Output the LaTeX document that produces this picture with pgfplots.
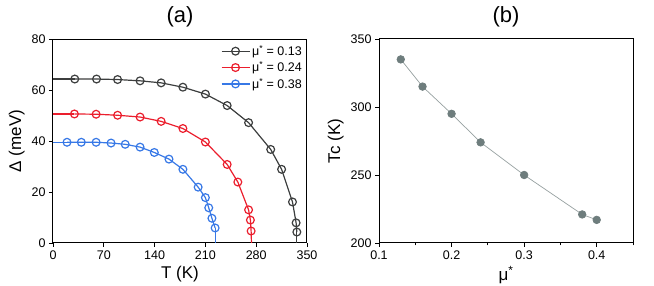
\documentclass[border=0pt]{standalone}
\usepackage{pgfplots}
\pgfplotsset{compat=1.18}
\usepackage{fontspec}
\setmainfont{Liberation Sans}
\definecolor{blk}{RGB}{60,62,62}
\definecolor{rd}{RGB}{235,30,45}
\definecolor{bl}{RGB}{55,120,230}
\definecolor{gm}{RGB}{110,125,125}
\definecolor{gl}{RGB}{150,160,160}
\begin{document}
\begin{tikzpicture}
\path[use as bounding box] (0pt,0pt) rectangle (654pt,286pt);
\pgfplotsset{
  common/.style={
    scale only axis, width=254pt, height=204pt,
    axis line style={line width=1pt, black},
    tick style={black, line width=0.8pt},
    tick align=outside, major tick length=4pt, minor tick length=2.5pt,
    xtick pos=bottom, ytick pos=left,
    tick label style={font=\fontsize{12.5}{14}\selectfont},
    label style={font=\fontsize{17}{20}\selectfont},
    title style={font=\fontsize{22}{26}\selectfont, yshift=2pt},
    /pgf/number format/assume math mode=true,
  },
  ser/.style={#1, line width=1.2pt, mark=o, mark size=3.9pt, mark options={fill=white, line width=1.2pt}},
  lin/.style={#1, line width=1.2pt, forget plot},
}
\begin{axis}[common, at={(53pt,43pt)}, anchor=south west,
  title={(a)},
  xmin=0, xmax=350, ymin=0, ymax=80,
  xtick={0,70,...,350}, ytick={0,20,...,80},
  xlabel={T (K)}, ylabel={Δ (meV)},
  legend style={at={(1.0,0.99)}, anchor=north east, draw=none, fill=none,
    font=\fontsize{12.5}{15}\selectfont, row sep=0.5pt},
  legend cell align=left,
  legend image code/.code={\draw[#1] (0pt,0pt) -- (28pt,0pt); \draw[#1, mark repeat=1] plot coordinates {(14pt,0pt)};},
]
\addplot[lin=blk] coordinates {(0,64.3) (30,64.3)};
\addplot[lin=blk] coordinates {(336,4.3) (336,0)};
\addplot[ser=blk] coordinates {
(30,64.3) (60,64.3) (89,64.1) (120,63.6) (149,62.8) (179,61.1) (210,58.4) (240,53.9) (269.5,47.2) (300,36.7) (315,28.9) (330,16.1) (335,7.9) (336,4.3)};
\addlegendentry{μ\textsuperscript{*} = 0.13}
\addplot[lin=rd] coordinates {(0,50.6) (29.5,50.6)};
\addplot[lin=rd] coordinates {(273,4.7) (273.5,0)};
\addplot[ser=rd] coordinates {
(29.5,50.6) (59.4,50.5) (89,50.1) (120,49.4) (149,47.7) (179,44.9) (210,39.6) (240,30.8) (254.7,23.9) (269.5,13.0) (272,9.0) (273,4.7)};
\addlegendentry{μ\textsuperscript{*} = 0.24}
\addplot[lin=bl] coordinates {(0,39.5) (19.3,39.5)};
\addplot[lin=bl] coordinates {(223.4,5.9) (223.4,0)};
\addplot[ser=bl] coordinates {
(19.3,39.5) (39,39.5) (59.4,39.5) (80,39.2) (99.5,38.7) (120,37.6) (139.6,35.5) (159.8,32.9) (179,28.9) (200,21.9) (210,17.8) (214.6,13.8) (219,9.7) (223.4,5.9)};
\addlegendentry{μ\textsuperscript{*} = 0.38}
\end{axis}
\begin{axis}[common, at={(379pt,43pt)}, anchor=south west,
  title={(b)},
  xmin=0.1, xmax=0.45, ymin=200, ymax=350,
  xtick={0.1,0.2,0.3,0.4}, minor xtick={0.15,0.25,0.35,0.45},
  ytick={200,250,300,350},
  xticklabel style={/pgf/number format/.cd, fixed, fixed zerofill, precision=1},
  xlabel={μ\textsuperscript{*}}, ylabel={Tc (K)},
]
\addplot[gl, line width=0.7pt, mark=*, mark size=3.8pt, mark options={gm, draw=gm, fill=gm}] coordinates {
(0.13,335) (0.16,315) (0.2,295) (0.24,274) (0.3,250) (0.38,221) (0.4,217)};
\end{axis}
\end{tikzpicture}
\end{document}
